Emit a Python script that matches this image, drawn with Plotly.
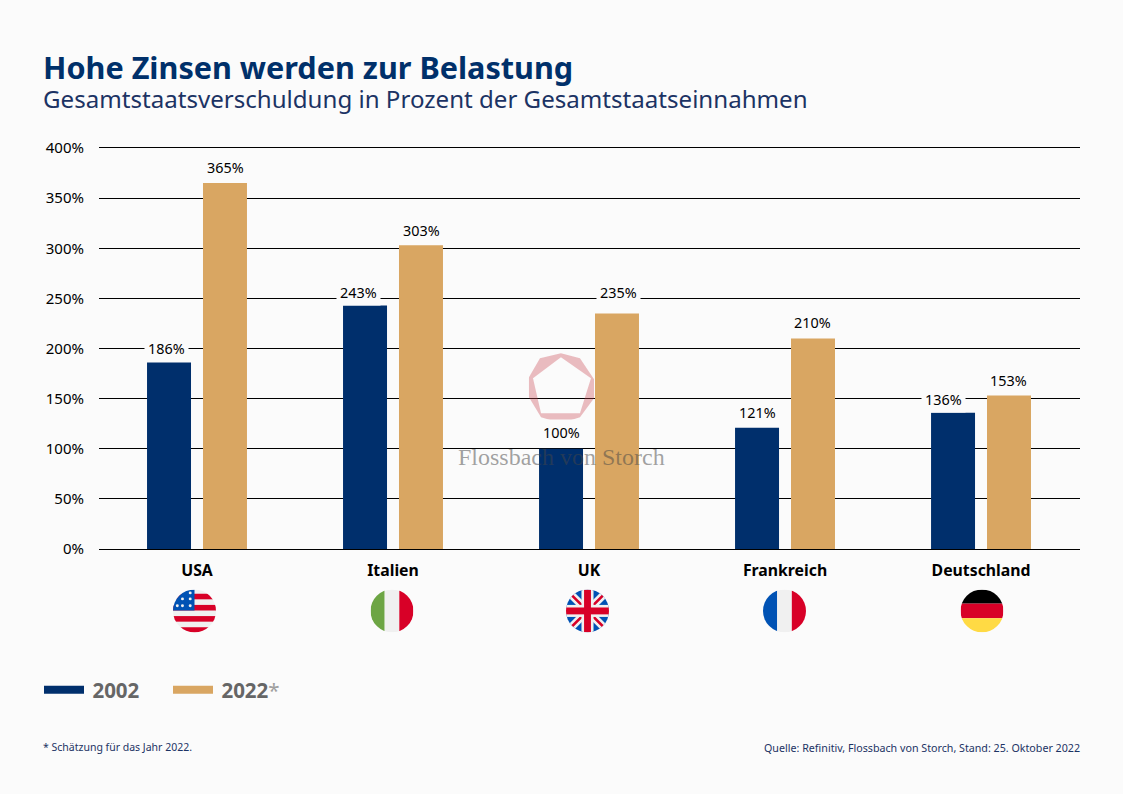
import base64

import plotly.graph_objects as go

countries = ["USA", "Italien", "UK", "Frankreich", "Deutschland"]
values_2002 = [186, 243, 100, 121, 136]
values_2022 = [365, 303, 235, 210, 153]
y_ticks = [0, 50, 100, 150, 200, 250, 300, 350, 400]
y_tick_labels = ["0%", "50%", "100%", "150%", "200%", "250%", "300%", "350%", "400%"]

NAVY = "#002f6c"
SAND = "#d9a662"
BG = "#fbfbfb"
FONT = "Noto Sans"

# plot area in page pixels
LEFT, RIGHT, TOP, BOTTOM = 99, 1080, 147.5, 549

# hand placed offsets of the value labels, in pixels
nudge_2002 = [(-31, 1), (-35, -1), (-28, 3), (-28, 2), (-38, 0)]
nudge_2022 = [(28, 2), (28, 1), (29, 7), (27, 2), (27, 2)]


def px_x(px):
    return (px - LEFT) / (RIGHT - LEFT)


def px_y(py):
    return (BOTTOM - py) / (BOTTOM - TOP)


def flag_uri(body):
    svg = (
        '<svg xmlns="http://www.w3.org/2000/svg" viewBox="0 0 100 100">'
        '<defs><clipPath id="c"><circle cx="50" cy="50" r="50"/></clipPath></defs>'
        f'<g clip-path="url(#c)">{body}</g></svg>'
    )
    return "data:image/svg+xml;base64," + base64.b64encode(svg.encode()).decode()


def rect(x, y, w, h, color):
    return f'<rect x="{x}" y="{y}" width="{w}" height="{h}" fill="{color}"/>'


RED = "#d80027"
WHITE = "#f0f0f0"
BLUE = "#0052b4"

us_stars = "".join(
    f'<circle cx="{x}" cy="{y}" r="3.4" fill="{WHITE}"/>'
    for x, y in [(40, 8), (22, 22), (40, 22), (10, 38), (22, 38), (40, 38)]
)
flags = [
    flag_uri(
        rect(0, 0, 100, 100, WHITE)
        + rect(0, 10, 100, 13, RED)
        + rect(0, 36, 100, 13, RED)
        + rect(0, 62, 100, 13, RED)
        + rect(0, 88, 100, 13, RED)
        + rect(0, 0, 50, 49, BLUE)
        + us_stars
    ),
    flag_uri(rect(0, 0, 33, 100, "#6da544") + rect(33, 0, 34, 100, WHITE) + rect(67, 0, 33, 100, RED)),
    flag_uri(
        rect(0, 0, 100, 100, BLUE)
        + f'<path d="M0 0L100 100M100 0L0 100" stroke="{WHITE}" stroke-width="18"/>'
        + f'<path d="M0 0L100 100M100 0L0 100" stroke="{RED}" stroke-width="6"/>'
        + rect(36, 0, 28, 100, WHITE)
        + rect(0, 36, 100, 28, WHITE)
        + rect(42, 0, 16, 100, RED)
        + rect(0, 42, 100, 16, RED)
    ),
    flag_uri(rect(0, 0, 33, 100, BLUE) + rect(33, 0, 34, 100, WHITE) + rect(67, 0, 33, 100, RED)),
    flag_uri(rect(0, 0, 100, 33, "#000000") + rect(0, 33, 100, 34, RED) + rect(0, 67, 100, 33, "#ffda44")),
]
flag_centres = [194.5, 392, 587.5, 784.5, 982]

fig = go.Figure()
fig.add_trace(go.Bar(x=countries, y=values_2002, marker=dict(color=NAVY, line_width=0), showlegend=False))
fig.add_trace(go.Bar(x=countries, y=values_2022, marker=dict(color=SAND, line_width=0), showlegend=False))

# thick line swatches for the legend
fig.add_trace(
    go.Scatter(x=[None], y=[None], mode="lines", line=dict(color=NAVY, width=8), name="\u2009<b>2002</b>")
)
fig.add_trace(
    go.Scatter(
        x=[None],
        y=[None],
        mode="lines",
        line=dict(color=SAND, width=8),
        name='\u2009<b>2022</b><span style="color:#a0a0a0">*</span>',
    )
)

annotations = []
for values, nudges in [(values_2002, nudge_2002), (values_2022, nudge_2022)]:
    for country, value, (dx, dy) in zip(countries, values, nudges):
        annotations.append(
            dict(
                x=country,
                y=value,
                xshift=dx,
                yshift=dy,
                yanchor="bottom",
                text=f"{value}%",
                showarrow=False,
                bgcolor=BG,
                borderpad=3,
                font=dict(size=14.4, color="#000000", family=FONT),
            )
        )


def page_text(text, x, y, size, color, anchor="left", weight="normal", family=FONT):
    annotations.append(
        dict(
            xref="paper",
            yref="paper",
            x=px_x(x),
            y=px_y(y),
            xanchor=anchor,
            yanchor="middle",
            text=text,
            showarrow=False,
            font=dict(size=size, color=color, family=family, weight=weight),
        )
    )


page_text("Hohe Zinsen werden zur Belastung", 41, 66, 30.6, "#00306a", weight="bold")
page_text("Gesamtstaatsverschuldung in Prozent der Gesamtstaatseinnahmen", 41, 98, 24.1, "#1c3364")
page_text("* Schätzung für das Jahr 2022.", 41, 747, 10.5, "#1c3364")
page_text("Quelle: Refinitiv, Flossbach von Storch, Stand: 25. Oktober 2022", 1082, 748, 10.7, "#1c3364", anchor="right")
page_text("Flossbach von Storch", 561, 457, 24, "rgba(70,70,70,0.5)", anchor="center", family="Liberation Serif")

# watermark logo
outer = [(561, 353), (580, 358), (594, 379), (594, 398), (580, 417), (561, 423), (541, 417), (529, 397), (529, 377), (540, 358)]
inner = [(561, 357), (591, 378), (580, 413), (541, 413), (533, 378)]


def ring_path(points):
    return "M" + "L".join(f"{px_x(x):.4f},{px_y(y):.4f}" for x, y in points) + "Z"


shapes = [
    dict(
        type="path",
        xref="paper",
        yref="paper",
        path=ring_path(outer) + ring_path(inner),
        fillcolor="rgba(200,70,80,0.35)",
        line_width=0,
        layer="above",
    )
]

images = [
    dict(
        source=flag,
        xref="paper",
        yref="paper",
        x=px_x(cx),
        y=px_y(611),
        sizex=43 / (RIGHT - LEFT),
        sizey=43 / (BOTTOM - TOP),
        xanchor="center",
        yanchor="middle",
        sizing="stretch",
        layer="above",
    )
    for flag, cx in zip(flags, flag_centres)
]

fig.update_layout(
    width=1123,
    height=794,
    margin=dict(l=LEFT, r=1123 - RIGHT, t=TOP, b=794 - BOTTOM, pad=0),
    paper_bgcolor=BG,
    plot_bgcolor=BG,
    font=dict(family=FONT, color="#000000"),
    barmode="group",
    bargap=0.429,
    bargroupgap=0.214,
    annotations=annotations,
    shapes=shapes,
    images=images,
    legend=dict(
        orientation="h",
        x=px_x(39),
        y=px_y(690),
        xanchor="left",
        yanchor="middle",
        itemwidth=40,
        entrywidth=74,
        entrywidthmode="pixels",
        font=dict(size=20.5, color="#666666", family=FONT),
        bgcolor="rgba(0,0,0,0)",
    ),
)
# mirrored line gives the 400% rule, plotly clips the grid at the range end
fig.update_xaxes(
    type="category",
    range=[-0.5, 4.505],
    tickfont=dict(size=15.8, color="#000000", weight="bold"),
    ticks="",
    showgrid=False,
    showline=True,
    mirror=True,
    linecolor="#000000",
    linewidth=1,
    ticklabelstandoff=7,
)
fig.update_yaxes(
    range=[0, 400],
    tickvals=y_ticks,
    ticktext=y_tick_labels,
    tickfont=dict(size=15, color="#000000"),
    showgrid=True,
    gridcolor="#000000",
    gridwidth=1,
    zeroline=True,
    zerolinecolor="#000000",
    zerolinewidth=1,
    ticks="",
    ticklabelstandoff=14,
)

fig.write_html(
    "out.html",
    config={"displayModeBar": False},
    post_script="document.body.style.margin='0';document.body.style.background='#fbfbfb';",
)
